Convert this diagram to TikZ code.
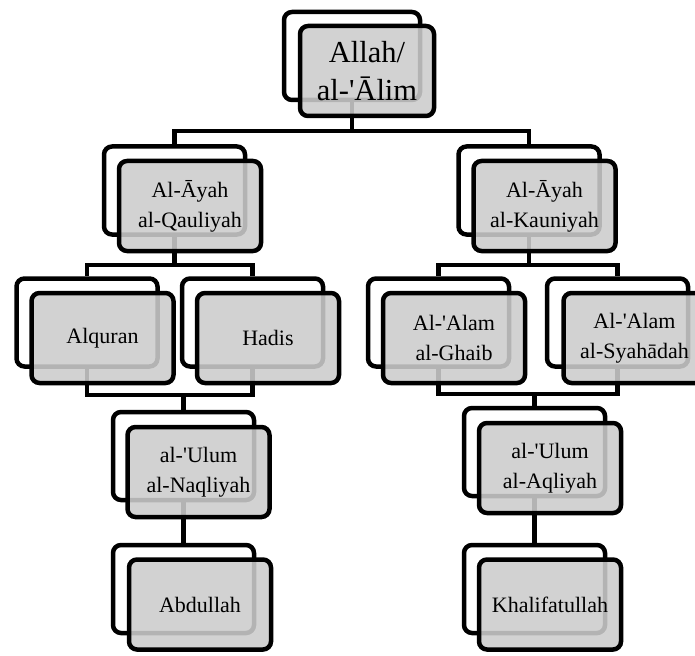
\documentclass[tikz,border=0pt]{standalone}
\usepackage{fontspec}
\setmainfont{Liberation Serif}[Ligatures=TeXOff]
\usetikzlibrary{positioning}
\tikzstyle{backbox} = [rectangle, draw, rounded corners=8pt, line width=4.5pt, fill=white, minimum width=141pt, minimum height=88pt, inner sep=0pt]
\tikzstyle{frontbox} = [rectangle, draw, rounded corners=8pt, line width=4.5pt, fill=gray!40, fill opacity=0.88, text opacity=1, minimum width=142pt, minimum height=90pt, inner sep=0pt, align=center, font=\fontsize{22}{30}\selectfont]
\tikzstyle{topfont} = [font=\fontsize{30.5}{38}\selectfont]
\tikzstyle{link} = [line width=4.5pt]

\begin{document}
\begin{tikzpicture}[x=1pt, y=-1pt]
        \useasboundingbox (0,0) rectangle (695,655);
        \node[backbox, minimum width=136pt] (allah) at (352,56) {};
        \node[backbox] (qauliyah) at (174.5,190.5) {};
        \node[backbox] (kauniyah) at (529,190.5) {};
        \node[backbox] (alquran) at (87,322.5) {};
        \node[backbox] (hadis) at (252.5,322.5) {};
        \node[backbox] (ghaib) at (438.5,322.5) {};
        \node[backbox] (syahadah) at (617.5,322.5) {};
        \node[backbox] (naqliyah) at (183.5,456) {};
        \node[backbox] (aqliyah) at (534.5,452) {};
        \node[backbox] (abdullah) at (183.5,589) {};
        \node[backbox] (khalifah) at (534.5,589) {};
        \draw[link] (allah.south) -- ++(0,29) -| (qauliyah.north);
        \draw[link] (allah.south) -- ++(0,29) -| (kauniyah.north);
        \draw[link] (qauliyah.south) -- ++(0,28) -| (alquran.north);
        \draw[link] (qauliyah.south) -- ++(0,28) -| (hadis.north);
        \draw[link] (kauniyah.south) -- ++(0,28) -| (ghaib.north);
        \draw[link] (kauniyah.south) -- ++(0,28) -| (syahadah.north);
        \draw[link] (alquran.south) -- ++(0,26) -| (naqliyah.north);
        \draw[link] (hadis.south) -- ++(0,26) -| (naqliyah.north);
        \draw[link] (ghaib.south) -- ++(0,25) -| (aqliyah.north);
        \draw[link] (syahadah.south) -- ++(0,25) -| (aqliyah.north);
        \draw[link] (naqliyah.south) -- (abdullah.north);
        \draw[link] (aqliyah.south) -- (khalifah.north);
        \node[frontbox, topfont, minimum width=134pt] (allahf) at ([shift={(15,15)}]allah.center) {Allah/\\al-'Ālim};
        \node[frontbox] (qauliyahf) at ([shift={(15.5,15.5)}]qauliyah.center) {Al-Āyah\\al-Qauliyah};
        \node[frontbox] (kauniyahf) at ([shift={(15.5,15.5)}]kauniyah.center) {Al-Āyah\\al-Kauniyah};
        \node[frontbox] (alquranf) at ([shift={(15.5,15.5)}]alquran.center) {Alquran};
        \node[frontbox] (hadisf) at ([shift={(15.5,15.5)}]hadis.center) {Hadis};
        \node[frontbox] (ghaibf) at ([shift={(15.5,15.5)}]ghaib.center) {Al-'Alam\\al-Ghaib};
        \node[frontbox] (syahadahf) at ([shift={(17,15.5)}]syahadah.center) {Al-'Alam\\al-Syahādah};
        \node[frontbox] (naqliyahf) at ([shift={(15,16)}]naqliyah.center) {al-'Ulum\\al-Naqliyah};
        \node[frontbox] (aqliyahf) at ([shift={(15.5,16)}]aqliyah.center) {al-'Ulum\\al-Aqliyah};
        \node[frontbox] (abdullahf) at ([shift={(16.5,15.5)}]abdullah.center) {Abdullah};
        \node[frontbox] (khalifahf) at ([shift={(15.5,15.5)}]khalifah.center) {Khalifatullah};
    \end{tikzpicture}
\end{document}
